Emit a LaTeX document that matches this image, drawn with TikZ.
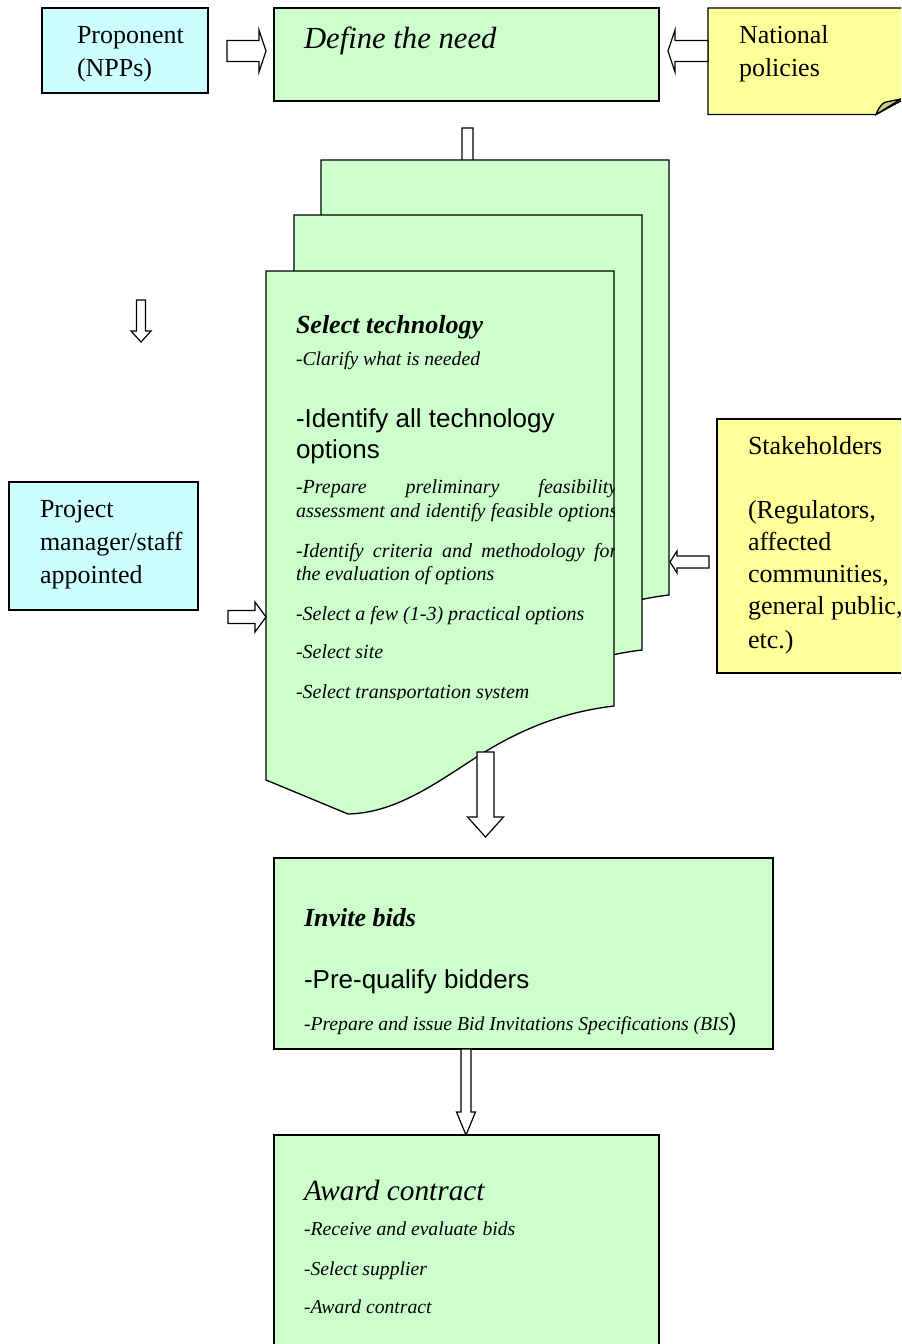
\documentclass[tikz,border=0pt]{standalone}
\usepackage{fontspec}
\setmainfont{Liberation Serif}
\newfontfamily\arialfont{Liberation Sans}
\definecolor{pgreen}{HTML}{CCFFCC}
\definecolor{pcyan}{HTML}{CCFFFF}
\definecolor{pyellow}{HTML}{FFFF99}
\definecolor{pfold}{HTML}{CCCC7A}
\newcommand\szL{\fontsize{19.5pt}{24pt}\selectfont}
\newcommand\szXL{\fontsize{22pt}{26pt}\selectfont}
\newcommand\szXXL{\fontsize{23pt}{27pt}\selectfont}
\newcommand\szS{\fontsize{14.75pt}{17pt}\selectfont}
\newcommand\szSF{\fontsize{15pt}{18pt}\selectfont}
% block arrows: x1, x2 (tip), y, shaft half, head half, head length
\newcommand\rblock[6]{\draw[blockarrow] (#1,#3-#4) -- (#2-#6,#3-#4) -- (#2-#6,#3-#5) -- (#2,#3) -- (#2-#6,#3+#5) -- (#2-#6,#3+#4) -- (#1,#3+#4) -- cycle;}
\newcommand\lblock[6]{\draw[blockarrow] (#1,#3-#4) -- (#2+#6,#3-#4) -- (#2+#6,#3-#5) -- (#2,#3) -- (#2+#6,#3+#5) -- (#2+#6,#3+#4) -- (#1,#3+#4) -- cycle;}
% down arrow: x, y1, y2 (tip), shaft half, head half, head length
\newcommand\dblock[6]{\draw[blockarrow] (#1-#4,#2) -- (#1+#4,#2) -- (#1+#4,#3-#6) -- (#1+#5,#3-#6) -- (#1,#3) -- (#1-#5,#3-#6) -- (#1-#4,#3-#6) -- cycle;}
\begin{document}
\begin{tikzpicture}[x=0.75pt,y=-0.75pt,
  box/.style={draw=black, line width=1pt, line join=miter},
  blockarrow/.style={draw=black, fill=white, line width=0.9pt, line join=miter},
  txt/.style={anchor=base west, inner sep=0pt, outer sep=0pt}]
\useasboundingbox (0,0) rectangle (901,1344);
\clip (0,0) rectangle (901,1344);

% ---------- top row ----------
\draw[box, fill=pcyan] (42,8) rectangle (208,93);
\node[txt] (p1) at (77,44) {\szL Proponent};
\node[txt] (p2) at (77,77) {\szL (NPPs)};

\draw[box, fill=pgreen] (274,8) rectangle (659,101);
\node[txt] (def) at (304,49) {\szXXL\itshape Define the need};

\draw[box, fill=pyellow] (708,8) -- (910,8) -- (910,96) -- (876,114.5) -- (708,114.5) -- cycle;
\draw[box, fill=pfold] (876,114.5) .. controls (879,107) and (882,103) .. (886,102) -- (901,99) -- cycle;
\node[txt] (n1) at (739,44) {\szL National};
\node[txt] (n2) at (739,77) {\szL policies};

\rblock{227}{266}{51}{10.5}{21}{7}
\lblock{708}{668}{51}{10.5}{21}{7}

% ---------- stacked documents ----------
\dblock{467.5}{128}{185}{5.5}{12}{14}
\foreach \sx/\sy in {55/-111, 28/-56, 0/0}{
  \draw[box, fill=pgreen, shift={(\sx,\sy)}]
    (266,271) -- (614,271) -- (614,706)
    .. controls (572,711) and (530,724) .. (483,753)
    .. controls (440,780) and (398,813) .. (348,814)
    -- (266,780) -- cycle;
}
\begin{scope}
  \clip (266,271) rectangle (614,699.5);
  \node[txt] (st) at (296,333) {\szL\bfseries\itshape Select technology};
  \node[txt] (s1) at (296,365) {\szS\itshape -Clarify what is needed};
  \node[txt] (s2) at (296,427) {\arialfont\szL -Identify all technology};
  \node[txt] (s2b) at (296,458) {\arialfont\szL options};
  \node[txt] (s3) at (296,493) {\szSF\itshape\makebox[241pt][s]{-Prepare preliminary feasibility}};
  \node[txt] (s3b) at (296,517) {\szSF\itshape\makebox[241pt][s]{assessment and identify feasible options}};
  \node[txt] (s4) at (296,557) {\szSF\itshape\makebox[241pt][s]{-Identify criteria and methodology for}};
  \node[txt] (s4b) at (296,580) {\szSF\itshape the evaluation of options};
  \node[txt] (s5) at (296,620) {\szSF\itshape -Select a few (1-3) practical options};
  \node[txt] (s6) at (296,658) {\szSF\itshape -Select site};
  \node[txt] (s7) at (296,698) {\szSF\itshape -Select transportation system};
\end{scope}

% ---------- left column ----------
\dblock{141}{300}{342}{4.5}{10}{11}
\draw[box, fill=pcyan] (9,482) rectangle (198,610);
\node[txt] (m1) at (40,517) {\szL Project};
\node[txt] (m2) at (40,550) {\szL manager/staff};
\node[txt] (m3) at (40,583) {\szL appointed};
\rblock{228}{266}{617}{6.5}{15}{11}

% ---------- stakeholders ----------
\draw[box, fill=pyellow] (717,419) rectangle (910,673);
\node[txt] (k1) at (748,454) {\szL Stakeholders};
\node[txt] (k2) at (748,518) {\szL (Regulators,};
\node[txt] (k3) at (748,550) {\szL affected};
\node[txt] (k4) at (748,582) {\szL communities,};
\node[txt] (k5) at (748,614) {\szL general public,};
\node[txt] (k6) at (748,648) {\szL etc.)};
\lblock{709}{670}{562}{6}{11}{7}

% ---------- invite bids ----------
\dblock{485.5}{752}{837}{8.5}{18}{20}
\draw[box, fill=pgreen] (274,858) rectangle (773,1049);
\node[txt] (i1) at (304,926) {\szL\bfseries\itshape Invite bids};
\node[txt] (i2) at (304,988) {\arialfont\szL -Pre-qualify bidders};
\node[txt] (i3) at (304,1030) {\szS\itshape -Prepare and issue Bid Invitations Specifications (BIS\upshape{\arialfont\fontsize{18pt}{20pt}\selectfont)}};

% ---------- award contract ----------
\dblock{466}{1049}{1135}{5}{9.5}{23}
\draw[box, fill=pgreen] (274,1135) rectangle (659,1360);
\node[txt] (a0) at (304,1200) {\szXL\itshape Award contract};
\node[txt] (a1) at (304,1235) {\szS\itshape -Receive and evaluate bids};
\node[txt] (a2) at (304,1275) {\szS\itshape -Select supplier};
\node[txt] (a3) at (304,1313) {\szS\itshape -Award contract};
\end{tikzpicture}
\end{document}
